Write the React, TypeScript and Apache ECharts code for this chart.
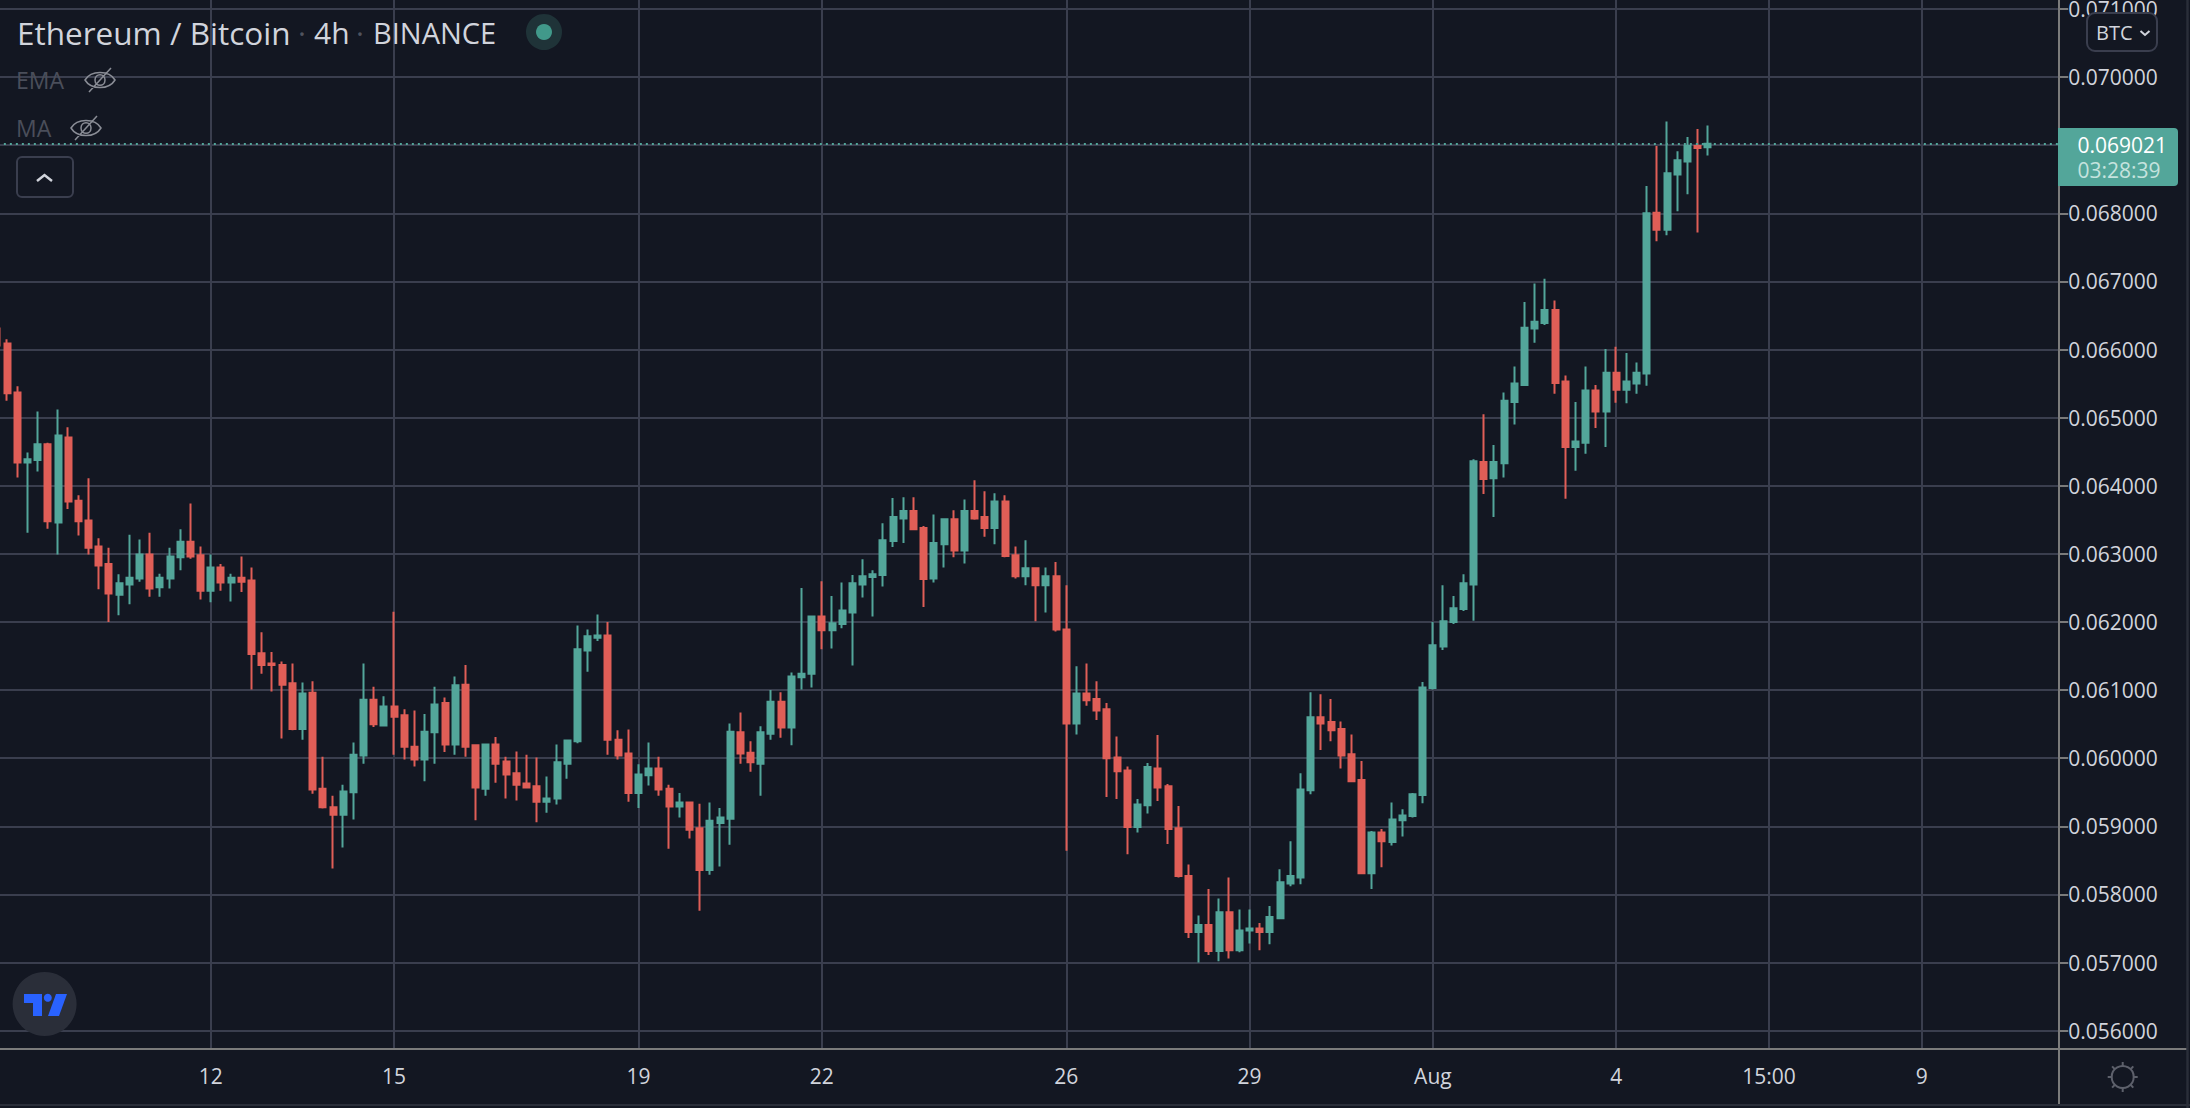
import React, { useEffect, useRef } from "react";
import * as echarts from "echarts";

const PRICE_UNIT = 1e-5;
const opens = [
  6631,6609,6537,6434,6438,6461,6346,6471,6378,6349,
  6311,6285,6240,6255,6264,6299,6251,6264,6295,6318,
  6298,6246,6280,6258,6265,6261,6154,6139,6137,6110,
  6043,6096,5955,5928,5917,5950,6004,6086,6048,6076,
  6063,6017,5998,6038,6081,6020,6108,6019,5955,6020,
  5995,5978,5963,5959,5936,5941,5992,6025,6158,6177,
  6180,6027,6007,5949,5975,5985,5955,5929,5935,5897,
  5836,5905,5911,6038,6008,5992,6036,6083,6045,6119,
  6124,6208,6188,6197,6214,6255,6266,6269,6319,6352,
  6363,6338,6264,6314,6351,6305,6363,6354,6338,6377,
  6298,6267,6279,6254,6267,6189,6051,6095,6087,6072,
  6001,5982,5899,5931,5985,5959,5897,5827,5745,5755,
  5717,5774,5718,5747,5750,5745,5765,5816,5825,5953,
  6060,6053,6043,6006,5968,5831,5891,5877,5909,5915,
  5946,6103,6164,6200,6219,6255,6435,6411,6433,6523,
  6548,6631,6639,6658,6553,6457,6463,6540,6509,6566,
  6541,6550,6565,6801,6776,6857,6876,6899,6897,
];
const closes = [
  6606,6536,6434,6439,6461,6348,6474,6377,6348,6309,
  6283,6242,6257,6265,6299,6249,6265,6296,6318,6296,
  6246,6280,6258,6265,6259,6153,6137,6137,6108,6043,
  6095,5954,5928,5917,5951,6005,6086,6050,6076,6061,
  6017,5998,6039,6079,6020,6107,6017,5957,6020,5992,
  5976,5961,5957,5936,5941,5994,6026,6160,6179,6180,
  6027,6004,5949,5976,5985,5954,5929,5935,5895,5836,
  5908,5913,6039,6007,5994,6038,6083,6045,6120,6124,
  6208,6188,6198,6217,6257,6267,6270,6320,6354,6363,
  6336,6263,6316,6351,6305,6363,6352,6338,6377,6297,
  6267,6279,6254,6267,6189,6051,6095,6085,6070,6000,
  5981,5899,5932,5987,5957,5896,5827,5745,5755,5717,
  5774,5718,5747,5750,5745,5767,5818,5827,5954,6060,
  6051,6041,6004,5966,5831,5891,5878,5910,5916,5947,
  6104,6166,6201,6220,6257,6436,6410,6435,6525,6550,
  6632,6641,6658,6551,6457,6465,6540,6509,6566,6541,
  6553,6566,6800,6776,6859,6878,6899,6896,6902,
];
const lows = [
  6606,6525,6412,6331,6421,6337,6299,6366,6327,6299,
  6248,6200,6210,6226,6259,6237,6237,6249,6276,6293,
  6233,6229,6246,6230,6244,6101,6124,6098,6029,6041,
  6027,5948,5926,5838,5869,5910,5992,6046,6048,6005,
  5998,5988,5966,5992,6009,6005,6002,5909,5945,5964,
  5941,5938,5957,5906,5920,5932,5970,6022,6127,6172,
  6005,5998,5936,5927,5960,5945,5867,5913,5882,5776,
  5829,5841,5873,5992,5980,5945,6027,6030,6019,6101,
  6104,6160,6161,6191,6136,6236,6208,6252,6310,6316,
  6336,6222,6258,6280,6295,6286,6350,6325,6314,6295,
  6264,6254,6201,6214,6186,5864,6035,6077,6056,5943,
  5940,5859,5891,5919,5937,5874,5825,5736,5700,5711,
  5702,5706,5715,5728,5718,5727,5765,5812,5815,5947,
  6012,6025,5985,5966,5830,5808,5840,5872,5885,5913,
  5934,6101,6159,6197,6216,6202,6388,6354,6412,6490,
  6548,6610,6636,6535,6381,6422,6447,6485,6457,6522,
  6521,6535,6547,6759,6768,6803,6828,6772,6885,
];
const highs = [
  6631,6615,6546,6449,6509,6463,6512,6486,6386,6411,
  6323,6309,6270,6328,6321,6331,6271,6309,6336,6374,
  6311,6299,6285,6271,6296,6280,6185,6156,6142,6139,
  6111,6113,6002,5945,5961,6023,6139,6105,6091,6215,
  6072,6070,6065,6105,6089,6120,6137,6020,6020,6031,
  6002,6010,6005,6001,5973,6020,6026,6195,6189,6211,
  6200,6041,6042,5991,6023,6002,5961,5949,5936,5933,
  5935,5927,6051,6067,6025,6047,6100,6097,6126,6250,
  6208,6260,6238,6258,6269,6292,6276,6345,6382,6383,
  6383,6341,6358,6352,6364,6380,6408,6392,6389,6386,
  6311,6320,6279,6280,6288,6254,6135,6139,6113,6081,
  6032,5988,5940,5993,6034,5962,5930,5844,5769,5808,
  5794,5825,5778,5778,5758,5783,5837,5878,5978,6097,
  6094,6087,6054,6035,5996,5893,5896,5935,5925,5949,
  6112,6200,6254,6238,6270,6439,6505,6460,6537,6575,
  6670,6697,6704,6672,6562,6523,6575,6548,6601,6604,
  6595,6581,6840,6899,6935,6891,6912,6924,6929,
];
const priceTicks = [0.056,0.057,0.058,0.059,0.06,0.061,0.062,0.063,0.064,0.065,0.066,0.067,0.068,0.069,0.07,0.071];
const priceLabels = [0.056,0.057,0.058,0.059,0.06,0.061,0.062,0.063,0.064,0.065,0.066,0.067,0.068,0.07,0.071];
const timeTicks: Record<string, string> = {
  "07-12 00": "12", "07-15 00": "15", "07-19 00": "19", "07-22 00": "22", "07-26 00": "26",
  "07-29 00": "29", "08-01 00": "Aug", "08-04 00": "4", "08-06 12": "15:00", "08-09 00": "9",
};
const LAST_PRICE = 0.069021;
const COUNTDOWN = "03:28:39";
const SLOT_COUNT = 203;

const pad = (n: number) => String(n).padStart(2, "0");
const categories: string[] = [];
for (let i = 0; i < SLOT_COUNT; i++) {
  const d = new Date(Date.UTC(2021, 6, 8, 12 + 4 * i));
  categories.push(`${pad(d.getUTCMonth() + 1)}-${pad(d.getUTCDate())} ${pad(d.getUTCHours())}`);
}

const candleData = opens.map((o, i) => [o * PRICE_UNIT, closes[i] * PRICE_UNIT, lows[i] * PRICE_UNIT, highs[i] * PRICE_UNIT]);

const BG = "#131722";
const GRID = "#3a3e4e";
const AXIS = "#7b7b7b";
const UP = "#53a69a";
const DOWN = "#e05e57";
const TEXT = "#d1d4dc";
const FONT = '"Open Sans"';

echarts.graphic.registerShape(
  "eyeOff",
  echarts.graphic.extendPath(
    "M1 12 C7 2 25 2 31 12 C25 22 7 22 1 12 Z M11 12 C11 5 21 5 21 12 C21 19 11 19 11 12 Z M5 24 L27 0",
    {}
  )
);

const txt = (text: string, x: number, y: number, size: number, fill: string, align = "left") => ({
  type: "text", z: 100, silent: true,
  style: { text, x, y, fill, font: `${size}px ${FONT}`, align, verticalAlign: "middle" },
});
const ln = (x1: number, y1: number, x2: number, y2: number, stroke: string, lineWidth = 2) => ({
  type: "line", z: 90, silent: true, shape: { x1, y1, x2, y2 }, style: { stroke, lineWidth },
});

const sunRays = [0, 45, 90, 135, 180, 225, 270, 315].map((deg) => {
  const a = (deg * Math.PI) / 180;
  return ln(2122.7 + 11 * Math.cos(a), 1077 + 11 * Math.sin(a), 2122.7 + 15 * Math.cos(a), 1077 + 15 * Math.sin(a), "#5d606b", 2);
});

const overlay: any[] = [
  txt("Ethereum / Bitcoin", 17, 32, 31.5, "#d1d4dc"),
  txt("·", 302, 32, 30, "#50535e", "center"),
  txt("4h", 314, 32, 30, "#d1d4dc"),
  txt("·", 360, 32, 30, "#50535e", "center"),
  txt("BINANCE", 373, 32, 29, "#d1d4dc"),
  { type: "circle", z: 95, silent: true, shape: { cx: 544, cy: 32, r: 18 }, style: { fill: "#1f3338" } },
  { type: "circle", z: 96, silent: true, shape: { cx: 544, cy: 32, r: 8 }, style: { fill: "#41998a" } },
  txt("EMA", 16, 80, 23, "#4a4e5a"),
  { type: "eyeOff", z: 100, silent: true, x: 84, y: 68, style: { fill: "none", stroke: "#8a8d96", lineWidth: 1.5 } },
  txt("MA", 16, 128, 23, "#4a4e5a"),
  { type: "eyeOff", z: 100, silent: true, x: 70, y: 116, style: { fill: "none", stroke: "#8a8d96", lineWidth: 1.5 } },
  { type: "rect", z: 95, silent: true, shape: { x: 17, y: 157, width: 56, height: 40, r: 5 }, style: { fill: BG, stroke: GRID, lineWidth: 2 } },
  { type: "polyline", z: 100, silent: true, shape: { points: [[37, 181], [44.5, 175], [52, 181]] }, style: { fill: "none", stroke: TEXT, lineWidth: 2.5 } },
  { type: "circle", z: 95, silent: true, shape: { cx: 44.6, cy: 1004, r: 32 }, style: { fill: "#2a2e39" } },
  { type: "polygon", z: 100, silent: true, shape: { points: [[24, 994], [42, 994], [42, 1016], [33, 1016], [33, 1003], [24, 1003]] }, style: { fill: "#2962ff" } },
  { type: "circle", z: 100, silent: true, shape: { cx: 47.8, cy: 997.7, r: 4 }, style: { fill: "#2962ff" } },
  { type: "polygon", z: 100, silent: true, shape: { points: [[56, 994], [67, 994], [59, 1016], [48, 1016]] }, style: { fill: "#2962ff" } },
  { type: "rect", z: 95, silent: true, shape: { x: 2087, y: 13, width: 70, height: 38, r: 8 }, style: { fill: BG, stroke: GRID, lineWidth: 2 } },
  txt("BTC", 2096, 32, 20, TEXT),
  { type: "polyline", z: 100, silent: true, shape: { points: [[2140.5, 31], [2145, 35], [2149.5, 31]] }, style: { fill: "none", stroke: TEXT, lineWidth: 2 } },
  { type: "rect", z: 95, silent: true, shape: { x: 2058, y: 128, width: 120, height: 58, r: [0, 4, 4, 0] }, style: { fill: UP } },
  ln(2059, 144, 2068, 144, "#c8e4df", 2),
  txt(LAST_PRICE.toFixed(6), 2077.5, 145, 21, "#ffffff"),
  txt(COUNTDOWN, 2077.5, 170, 21, "#c5e3de"),
  ln(2059, 1049, 2059, 1105, AXIS, 2),
  ln(2059, 1049, 2187, 1049, AXIS, 2),
  ln(0, 1105, 2190, 1105, "#2a2e39", 2),
  ln(2187.5, 0, 2187.5, 1108, "#2a2e39", 2.5),
  { type: "circle", z: 95, silent: true, shape: { cx: 2122.7, cy: 1077, r: 11 }, style: { fill: "none", stroke: "#5d606b", lineWidth: 2 } },
  ...sunRays,
];

export default function App() {
  const ref = useRef<HTMLDivElement>(null);
  useEffect(() => {
    document.body.style.margin = "0";
    document.body.style.background = BG;
    const chart = echarts.init(ref.current!, null, { renderer: "svg" });
    const isTick = (_: number, v: string) => v in timeTicks;
    chart.setOption({
      animation: false,
      backgroundColor: BG,
      textStyle: { fontFamily: FONT },
      grid: { left: -8.15, top: -1, width: 2067.35, height: 1049.7, containLabel: false, outerBoundsMode: "none" },
      xAxis: {
        type: "category",
        data: categories,
        boundaryGap: true,
        axisLine: { lineStyle: { color: AXIS, width: 2 } },
        axisTick: { interval: isTick, alignWithLabel: true, length: 9, lineStyle: { color: AXIS, width: 2 } },
        splitLine: { show: true, interval: isTick, alignWithLabel: true, lineStyle: { color: GRID, width: 2 } },
        axisLabel: {
          interval: isTick,
          formatter: (v: string) => timeTicks[v] ?? "",
          color: TEXT, fontFamily: FONT, fontSize: 21, margin: 17,
        },
      },
      yAxis: {
        type: "value",
        position: "right",
        scale: true,
        min: 0.055735,
        max: 0.071147,
        axisLine: { show: true, lineStyle: { color: AXIS, width: 2 } },
        axisTick: { show: true, length: 9, customValues: priceTicks, lineStyle: { color: AXIS, width: 2 } },
        splitLine: { show: true, lineStyle: { color: GRID, width: 2 } },
        axisLabel: {
          customValues: priceLabels,
          formatter: (v: number) => v.toFixed(6),
          color: TEXT, fontFamily: FONT, fontSize: 21, margin: 9, align: "left",
        },
      },
      series: [
        {
          type: "candlestick",
          data: candleData,
          barWidth: 6.5,
          itemStyle: { color: UP, color0: DOWN, borderColor: UP, borderColor0: DOWN, borderWidth: 2 },
          markLine: {
            silent: true,
            symbol: "none",
            precision: 6,
            label: { show: false },
            lineStyle: { color: UP, type: [2, 4], width: 2 },
            data: [{ yAxis: LAST_PRICE }],
          },
        },
      ],
      graphic: { elements: overlay },
    });
    return () => chart.dispose();
  }, []);
  return <div ref={ref} style={{ position: "absolute", left: 0, top: 0, width: 2190, height: 1108, overflow: "hidden" }} />;
}
